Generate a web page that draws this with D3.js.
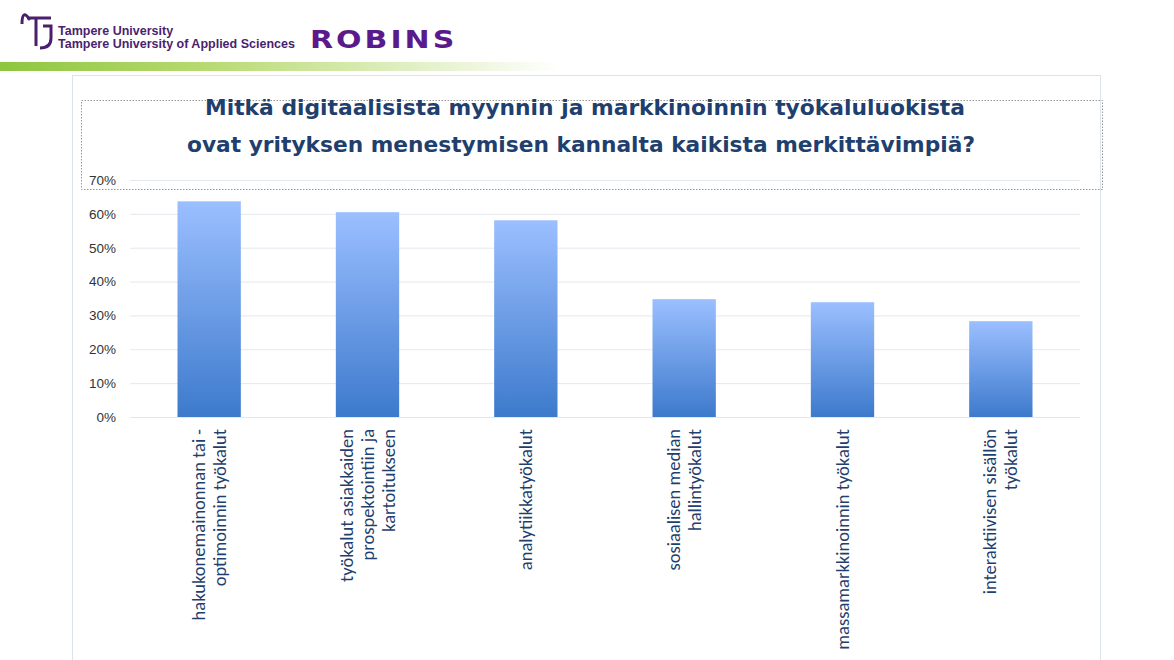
<!DOCTYPE html>
<html><head><meta charset="utf-8">
<script src="https://cdnjs.cloudflare.com/ajax/libs/d3/7.8.5/d3.min.js"></script>
<style>body{margin:0;background:#fff}svg{display:block;font-family:Calibri,Carlito,"Open Sans",sans-serif}</style>
</head><body><svg width="1174" height="660"></svg>
<script>
const categories = [
 ["hakukonemainonnan tai -","optimoinnin työkalut"],
 ["työkalut asiakkaiden","prospektointiin ja","kartoitukseen"],
 ["analytiikkatyökalut"],
 ["sosiaalisen median","hallintyökalut"],
 ["massamarkkinoinnin työkalut"],
 ["interaktiivisen sisällön","työkalut"]
];
const values = [0.637, 0.605, 0.581, 0.348, 0.339, 0.283];
const yTicks = [0,0.1,0.2,0.3,0.4,0.5,0.6,0.7];

const svg = d3.select("svg");
const defs = svg.append("defs");
const gb = defs.append("linearGradient").attr("id","band").attr("x1",0).attr("x2",1);
gb.append("stop").attr("offset",0).attr("stop-color","#8dc63f");
gb.append("stop").attr("offset",0.35).attr("stop-color","#b5d96e");
gb.append("stop").attr("offset",1).attr("stop-color","#fff");
svg.append("rect").attr("x",0).attr("y",62).attr("width",560).attr("height",9).attr("fill","url(#band)");
const gr = defs.append("linearGradient").attr("id","bar").attr("x1",0).attr("y1",0).attr("x2",0).attr("y2",1);
gr.append("stop").attr("offset",0).attr("stop-color","#9bbfff");
gr.append("stop").attr("offset",1).attr("stop-color","#3d7acc");

svg.append("path").attr("d","M30 20 Q22 8 22 24 M27 18 h24 M36 18 v28 M43 26 h8 v12 Q51 48 40 48").attr("fill","none").attr("stroke","#4b1f6f").attr("stroke-width",3);
svg.append("text").attr("x",58).attr("y",35).attr("font-family","Liberation Sans, Arial").attr("font-size",12.5).attr("font-weight","bold").attr("fill","#4b1f6f").text("Tampere University");
svg.append("text").attr("x",58).attr("y",48).attr("font-family","Liberation Sans, Arial").attr("font-size",12.5).attr("font-weight","bold").attr("fill","#4b1f6f").text("Tampere University of Applied Sciences");
svg.append("text").attr("x",310).attr("y",48).attr("font-family","DejaVu Sans").attr("font-size",30).attr("font-weight","bold").attr("letter-spacing",3).attr("fill","#5a1a8c").attr("transform","scale(1,0.85)").attr("transform-origin","310 48").text("ROBINS");

svg.append("rect").attr("x",72.5).attr("y",75.5).attr("width",1028).attr("height",600).attr("fill","#fff").attr("stroke","#dde3ea");
svg.append("rect").attr("x",81.5).attr("y",100.5).attr("width",1021).attr("height",89).attr("fill","none").attr("stroke","#999").attr("stroke-dasharray","1.5,1.5");

svg.append("text").attr("x",205).attr("y",115).attr("font-family","DejaVu Sans").attr("font-size",21).attr("font-weight","bold").attr("fill","#1f3f6e").attr("textLength",760).attr("lengthAdjust","spacingAndGlyphs").text("Mitkä digitaalisista myynnin ja markkinoinnin työkaluluokista");
svg.append("text").attr("x",187).attr("y",152).attr("font-family","DejaVu Sans").attr("font-size",21).attr("font-weight","bold").attr("fill","#1f3f6e").attr("textLength",788).attr("lengthAdjust","spacingAndGlyphs").text("ovat yrityksen menestymisen kannalta kaikista merkittävimpiä?");

const x = d3.scaleBand().domain(d3.range(categories.length)).range([130,1080]).paddingInner(0.6).paddingOuter(0.3);
const y = d3.scaleLinear().domain([0,0.7]).range([417,180]);

const ya = svg.append("g").attr("transform","translate(130,0)")
 .call(d3.axisLeft(y).tickValues(yTicks).tickFormat(d3.format(".0%")).tickSize(-950).tickPadding(14));
ya.select(".domain").remove();
ya.selectAll("line").attr("stroke","#e3e8ee");
ya.selectAll("text").attr("font-size",13.5).attr("fill","#333");

svg.selectAll(".bar").data(values).join("rect").attr("x",(d,i)=>x(i)).attr("width",x.bandwidth())
 .attr("y",d=>y(d)).attr("height",d=>y(0)-y(d)).attr("fill","url(#bar)");

categories.forEach((lines,i)=>{
 const cx = x(i)+x.bandwidth()/2;
 const n = lines.length;
 const t = svg.append("text").attr("transform",`translate(${cx},429) rotate(-90)`).attr("text-anchor","end").attr("font-size",18.5).attr("fill","#1f3f6e");
 lines.forEach((l,j)=>t.append("tspan").attr("x",0).attr("y",(j-(n-1)/2)*21+6).text(l));
});
</script></body></html>
